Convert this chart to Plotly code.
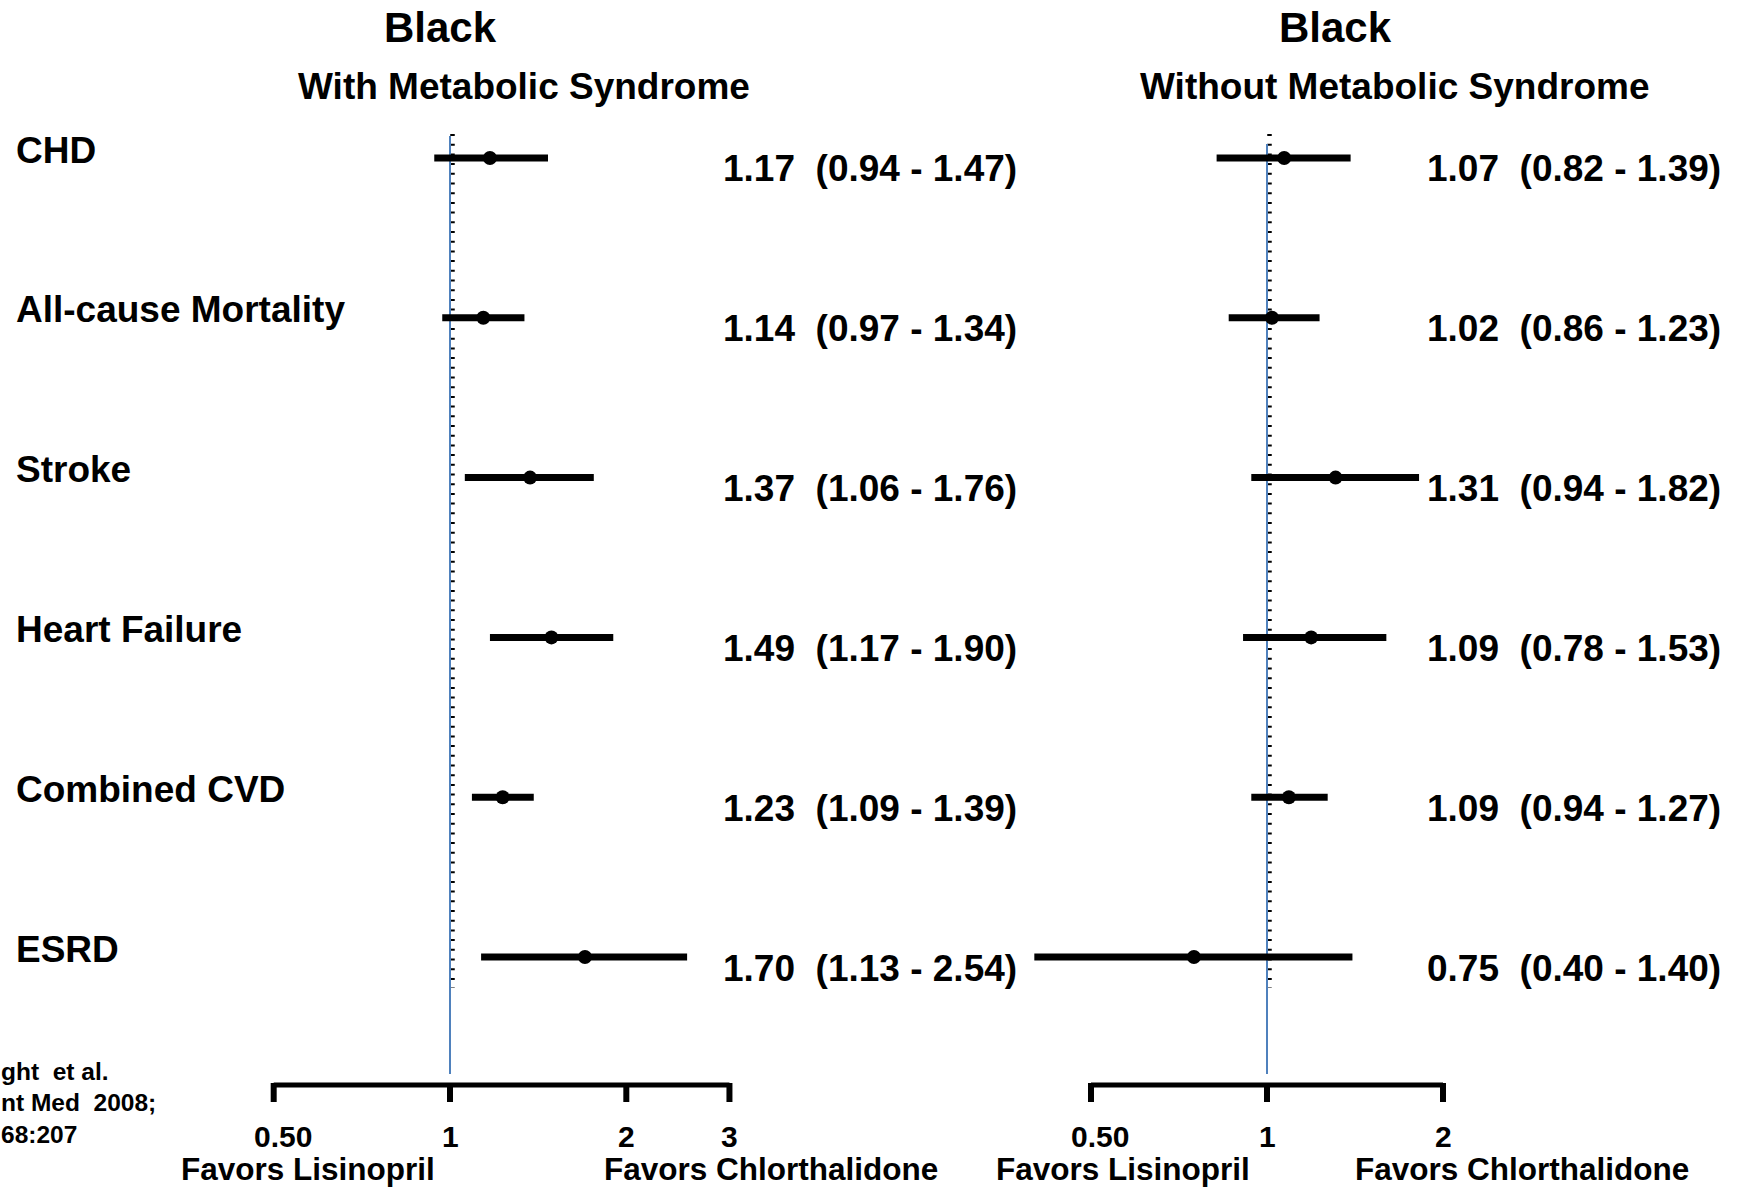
import numpy as np
import plotly.graph_objects as go

# ---------------- data ----------------
outcomes = ["CHD", "All-cause Mortality", "Stroke", "Heart Failure", "Combined CVD", "ESRD"]
# plotted marks
with_hr = [1.17, 1.14, 1.37, 1.49, 1.23, 1.70]
with_lo = [0.94, 0.97, 1.06, 1.17, 1.09, 1.13]
with_hi = [1.47, 1.34, 1.76, 1.90, 1.39, 2.54]
without_hr = [1.07, 1.02, 1.31, 1.19, 1.09, 0.75]
without_lo = [0.82, 0.86, 0.94, 0.91, 0.94, 0.40]
without_hi = [1.39, 1.23, 1.82, 1.60, 1.27, 1.40]
# printed estimates
with_labels = ["1.17  (0.94 - 1.47)", "1.14  (0.97 - 1.34)", "1.37  (1.06 - 1.76)",
               "1.49  (1.17 - 1.90)", "1.23  (1.09 - 1.39)", "1.70  (1.13 - 2.54)"]
without_labels = ["1.07  (0.82 - 1.39)", "1.02  (0.86 - 1.23)", "1.31  (0.94 - 1.82)",
                  "1.09  (0.78 - 1.53)", "1.09  (0.94 - 1.27)", "0.75  (0.40 - 1.40)"]
ticks_left = [0.5, 1, 2, 3]
ticks_left_text = ["0.50", "1", "2", "3"]
ticks_right = [0.5, 1, 2]
ticks_right_text = ["0.50", "1", "2"]
panel_race = ["Black", "Black"]
panel_group = ["With Metabolic Syndrome", "Without Metabolic Syndrome"]
favor_labels = ["Favors Lisinopril", "Favors Chlorthalidone"]
citation = ["ght  et al.", "nt Med  2008;", "68:207"]

# ---------------- layout helpers ----------------
W, H = 1744, 1189
FONT = "Liberation Sans, Arial, sans-serif"
ROW0, ROWSTEP = 158, 159.8


def yval(px):
    return (px - ROW0) / ROWSTEP


def pxx(px):
    return px / W


def pxy(px):
    return 1 - px / H


def nb(s):
    return s.replace("  ", "\u00a0\u00a0")


# x-axis pixel geometry: (domain left px, domain right px, px of value 1, px per decade)
AX = {
    "x": (240, 800, 450, 585.7),
    "x2": (1000, 1500, 1267, 584.7),
}

fig = go.Figure()
annotations = []

panels = [
    ("x", with_hr, with_lo, with_hi, ticks_left, ticks_left_text, 136),
    ("x2", without_hr, without_lo, without_hi, ticks_right, ticks_right_text, 144),
]

BLUE = "#4F81BD"
for xa, hr, lo, hi, tv, tt, blue_top in panels:
    common = dict(xaxis=xa, yaxis="y", showlegend=False, hoverinfo="skip")
    dec = AX[xa][3]
    # dotted marks along reference line (a couple of px right of it)
    off = 10 ** (2.5 / dec)
    fig.add_trace(go.Scatter(x=[off, off], y=[yval(134), yval(988)], mode="lines",
                             line=dict(color="black", width=4.5, dash="2px,7.7px"), **common))
    # reference line at 1
    fig.add_trace(go.Scatter(x=[1, 1], y=[yval(blue_top), yval(1074)], mode="lines",
                             line=dict(color=BLUE, width=2), **common))
    # confidence intervals
    cx, cy = [], []
    for i, (a, b) in enumerate(zip(lo, hi)):
        cx += [a, b, None]
        cy += [i, i, None]
    fig.add_trace(go.Scatter(x=cx, y=cy, mode="lines",
                             line=dict(color="black", width=7), **common))
    # point estimates
    fig.add_trace(go.Scatter(x=hr, y=list(range(len(hr))), mode="markers",
                             marker=dict(color="black", size=14,
                                         line=dict(width=0)), **common))
    # bottom axis line
    fig.add_trace(go.Scatter(x=[tv[0], tv[-1]], y=[yval(1085), yval(1085)], mode="lines",
                             line=dict(color="black", width=5), **common))
    tx, ty = [], []
    for t in tv:
        tx += [t, t, None]
        ty += [yval(1083), yval(1102), None]
    fig.add_trace(go.Scatter(x=tx, y=ty, mode="lines",
                             line=dict(color="black", width=6), **common))
    # tick labels
    for j, (t, s) in enumerate(zip(tv, tt)):
        annotations.append(dict(text=f"<b>{s}</b>", x=float(np.log10(t)), y=pxy(1136),
                                xref=xa, yref="paper", xanchor="center", yanchor="middle",
                                xshift=9 if j == 0 else 0, showarrow=False,
                                borderpad=0, borderwidth=0,
                                font=dict(family=FONT, size=30, color="black")))


def ann(text, x, y, size, xanchor="center"):
    annotations.append(dict(text=f"<b>{text}</b>", x=pxx(x), y=pxy(y), xref="paper", yref="paper",
                            xanchor=xanchor, yanchor="middle", showarrow=False,
                            borderpad=0, borderwidth=0,
                            font=dict(family=FONT, size=size, color="black")))


# panel headers
ann(panel_race[0], 440, 27, 42)
ann(panel_race[1], 1335, 27, 42)
ann(panel_group[0], 524, 87, 37)
ann(panel_group[1], 1394, 87, 37)

# row labels & value texts
for i, name in enumerate(outcomes):
    rp = ROW0 + ROWSTEP * i
    ann(name, 16, rp - 8, 37, "left")
    ann(nb(with_labels[i]), 723, rp + 11, 37, "left")
    ann(nb(without_labels[i]), 1427, rp + 11, 37, "left")

# favors labels
ann(favor_labels[0], 308, 1169, 31.5)
ann(favor_labels[1], 771, 1169, 31.5)
ann(favor_labels[0], 1123, 1169, 31.5)
ann(favor_labels[1], 1522, 1169, 31.5)

# citation fragment at the left edge
for line, yc in zip(citation, [1071, 1102, 1134]):
    ann(nb(line), 1, yc, 24.5, "left")

layout_axes = {}
for xa, (d0, d1, p1, dec) in AX.items():
    key = "xaxis" if xa == "x" else "xaxis2"
    layout_axes[key] = dict(type="log", domain=[d0 / W, d1 / W],
                            range=[(d0 - p1) / dec, (d1 - p1) / dec],
                            visible=False, anchor="y", fixedrange=True)

fig.update_layout(
    width=W, height=H,
    margin=dict(l=0, r=0, t=0, b=0),
    paper_bgcolor="white", plot_bgcolor="white",
    yaxis=dict(range=[(H - ROW0) / ROWSTEP, -ROW0 / ROWSTEP], domain=[0, 1],
               visible=False, fixedrange=True),
    annotations=annotations,
    **layout_axes,
)

fig.write_html("out.html", config={"displayModeBar": False},
               post_script="document.body.style.margin='0';document.body.style.overflow='hidden';")
